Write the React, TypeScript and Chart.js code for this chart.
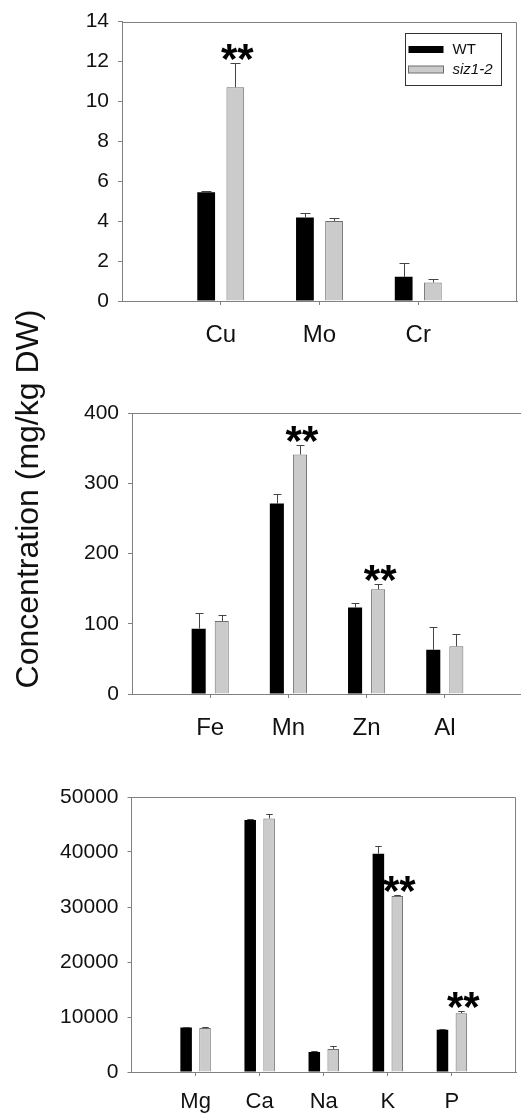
import React, { useEffect, useRef } from "react";
import { Chart, registerables } from "chart.js";

Chart.register(...registerables);

// ---------- data ----------
const seriesNames = ["WT", "siz1-2"];
const yTitle = "Concentration (mg/kg DW)";

const topCats = ["Cu", "Mo", "Cr"];
const topWT = [5.45, 4.19, 1.21];
const topWTErr = [0.05, 0.2, 0.68];
const topSiz = [10.71, 4.01, 0.93];
const topSizErr = [1.23, 0.17, 0.15];
const topSig = [true, false, false];

const midCats = ["Fe", "Mn", "Zn", "Al"];
const midWT = [93, 271, 123, 63];
const midWTErr = [23, 14, 7, 32];
const midSiz = [104, 341, 149, 68];
const midSizErr = [8, 13, 8, 17];
const midSig = [false, true, true, false];

const botCats = ["Mg", "Ca", "Na", "K", "P"];
const botWT = [8100, 45800, 3650, 39700, 7700];
const botWTErr = [100, 150, 200, 1400, 100];
const botSiz = [8000, 46100, 4200, 32000, 10700];
const botSizErr = [100, 800, 550, 100, 430];
const botSig = [false, false, false, true, true];

const topYMax = 14, topYStep = 2;
const midYMax = 400, midYStep = 100;
const botYMax = 50000, botYStep = 10000;

// ---------- styling ----------
const AXIS = "#808080";
const TEXT = "#111111";
const WT_FILL = "#000000";
const SIZ_FILL = "#cbcbcb";
const SIZ_BORDER = "#6e6e6e";
const ERR = "#444444";
const FONT = "Liberation Sans, Arial, sans-serif";

type Spec = {
  cats: string[];
  wt: number[];
  wtErr: number[];
  siz: number[];
  sizErr: number[];
  sig: boolean[];
  yMax: number;
  yStep: number;
  top: number;
  width: number;
  height: number;
  axisX: number;
  padTop: number;
  padRight: number;
  xh: number;
  xFont: number;
  xPad: number;
  legend: boolean;
};

const specs: Spec[] = [
  {
    cats: topCats, wt: topWT, wtErr: topWTErr, siz: topSiz, sizErr: topSizErr, sig: topSig,
    yMax: topYMax, yStep: topYStep,
    top: 0, width: 521, height: 345, axisX: 122, padTop: 19, padRight: 4, xh: 44, xFont: 24, xPad: 16, legend: true,
  },
  {
    cats: midCats, wt: midWT, wtErr: midWTErr, siz: midSiz, sizErr: midSizErr, sig: midSig,
    yMax: midYMax, yStep: midYStep,
    top: 380, width: 526, height: 364, axisX: 132, padTop: 33, padRight: 3, xh: 50, xFont: 24, xPad: 16, legend: false,
  },
  {
    cats: botCats, wt: botWT, wtErr: botWTErr, siz: botSiz, sizErr: botSizErr, sig: botSig,
    yMax: botYMax, yStep: botYStep,
    top: 760, width: 521, height: 357, axisX: 131.5, padTop: 37, padRight: 5, xh: 45, xFont: 22, xPad: 12.6, legend: false,
  },
];

function buildConfig(spec: Spec): any {
  const errs = [spec.wtErr, spec.sizErr];

  const errorBars = {
    id: "errorBars",
    afterDatasetsDraw(chart: any) {
      const ctx = chart.ctx;
      const y = chart.scales.y;
      ctx.save();
      ctx.strokeStyle = ERR;
      ctx.lineWidth = 1;
      chart.data.datasets.forEach((ds: any, di: number) => {
        const meta = chart.getDatasetMeta(di);
        meta.data.forEach((bar: any, j: number) => {
          const v = ds.data[j].y;
          const e = errs[di][j];
          const x = Math.round(bar.x) + 0.5;
          const yTop = bar.y;
          const yE = Math.round(y.getPixelForValue(v + e)) + 0.5;
          const half = bar.width * 0.28;
          ctx.beginPath();
          ctx.moveTo(x, yTop);
          ctx.lineTo(x, yE);
          ctx.moveTo(x - half, yE);
          ctx.lineTo(x + half, yE);
          ctx.stroke();
        });
      });
      ctx.restore();
    },
  };

  const sigMarks = {
    id: "sigMarks",
    afterDatasetsDraw(chart: any) {
      const ctx = chart.ctx;
      const y = chart.scales.y;
      const meta = chart.getDatasetMeta(1);
      ctx.save();
      ctx.fillStyle = "#000";
      ctx.font = `bold 42px ${FONT}`;
      ctx.textAlign = "center";
      ctx.textBaseline = "alphabetic";
      const m = ctx.measureText("**");
      const asc = m.actualBoundingBoxAscent;
      const desc = m.actualBoundingBoxDescent;
      spec.sig.forEach((s, j) => {
        if (!s) return;
        const bar = meta.data[j];
        const v = spec.siz[j] + spec.sizErr[j];
        const yE = y.getPixelForValue(v);
        const center = yE - 11;
        const baseline = center - (desc - asc) / 2;
        ctx.fillText("**", bar.x + 2, baseline);
      });
      ctx.restore();
    },
  };

  const frame = {
    id: "frame",
    afterDraw(chart: any) {
      const ctx = chart.ctx;
      const ca = chart.chartArea;
      ctx.save();
      ctx.strokeStyle = AXIS;
      ctx.lineWidth = 1;
      const t = Math.round(ca.top) + 0.5;
      const r = Math.round(ca.right) - 0.5;
      ctx.beginPath();
      ctx.moveTo(ca.left, t);
      ctx.lineTo(r, t);
      ctx.lineTo(r, ca.bottom);
      ctx.stroke();
      ctx.restore();
    },
  };

  const legendBox = {
    id: "legendBox",
    afterDraw(chart: any) {
      if (!spec.legend) return;
      const ctx = chart.ctx;
      const ca = chart.chartArea;
      const bw = 96, bh = 52;
      const bx = Math.round(ca.right - 16 - bw) + 0.5;
      const by = Math.round(ca.top + 11) + 0.5;
      ctx.save();
      ctx.fillStyle = "#fff";
      ctx.fillRect(bx, by, bw, bh);
      ctx.strokeStyle = "#333";
      ctx.lineWidth = 1;
      ctx.strokeRect(bx, by, bw, bh);
      const rows = [16, 36];
      rows.forEach((dy, i) => {
        const cy = by + dy;
        if (i === 0) {
          ctx.fillStyle = WT_FILL;
          ctx.fillRect(bx + 3, cy - 3.5, 35, 7);
        } else {
          ctx.fillStyle = SIZ_FILL;
          ctx.fillRect(bx + 3, cy - 3.5, 35, 7);
          ctx.strokeStyle = SIZ_BORDER;
          ctx.strokeRect(bx + 3, cy - 3.5, 35, 7);
        }
        ctx.fillStyle = TEXT;
        ctx.font = `${i === 1 ? "italic " : ""}15px ${FONT}`;
        ctx.textAlign = "left";
        ctx.textBaseline = "middle";
        ctx.fillText(seriesNames[i], bx + 47, cy);
      });
      ctx.restore();
    },
  };

  return {
    type: "bar",
    data: {
      datasets: [
        {
          label: seriesNames[0],
          data: spec.cats.map((_, i) => ({ x: i + 1, y: spec.wt[i] })),
          backgroundColor: WT_FILL,
          borderColor: WT_FILL,
          borderWidth: 0,
        },
        {
          label: seriesNames[1],
          data: spec.cats.map((_, i) => ({ x: i + 1, y: spec.siz[i] })),
          backgroundColor: SIZ_FILL,
          borderColor: SIZ_BORDER,
          borderWidth: 1,
        },
      ],
    },
    options: {
      responsive: false,
      animation: false,
      devicePixelRatio: 1,
      categoryPercentage: 0.59,
      barPercentage: 0.61,
      layout: { padding: { top: spec.padTop, right: spec.padRight, left: 0, bottom: 0 } },
      plugins: { legend: { display: false }, tooltip: { enabled: false } },
      scales: {
        x: {
          type: "linear",
          min: 0,
          max: spec.cats.length + 1,
          offset: false,
          afterBuildTicks: (s: any) => {
            s.ticks = spec.cats.map((_, i) => ({ value: i + 1 }));
          },
          afterFit: (s: any) => {
            s.height = spec.xh;
          },
          ticks: {
            autoSkip: false,
            maxRotation: 0,
            padding: spec.xPad,
            color: TEXT,
            font: { family: FONT, size: spec.xFont },
            callback: (v: number) => spec.cats[v - 1] ?? "",
          },
          grid: { offset: false, drawOnChartArea: false, drawTicks: true, tickLength: 4, color: AXIS },
          border: { display: true, color: AXIS, width: 1 },
        },
        y: {
          min: 0,
          max: spec.yMax,
          afterFit: (s: any) => {
            s.width = spec.axisX;
          },
          ticks: {
            stepSize: spec.yStep,
            padding: 9,
            color: TEXT,
            font: { family: FONT, size: 21 },
            callback: (v: number) => String(v),
          },
          grid: { drawOnChartArea: false, drawTicks: true, tickLength: 4, color: AXIS },
          border: { display: true, color: AXIS, width: 1 },
        },
      },
    },
    plugins: [frame, errorBars, sigMarks, legendBox],
  };
}

function Panel({ spec }: { spec: Spec }) {
  const ref = useRef<HTMLCanvasElement | null>(null);
  useEffect(() => {
    if (!ref.current) return;
    const chart = new Chart(ref.current, buildConfig(spec));
    return () => chart.destroy();
  }, [spec]);
  return (
    <canvas
      ref={ref}
      width={spec.width}
      height={spec.height}
      style={{ position: "absolute", left: 0, top: spec.top, width: spec.width, height: spec.height }}
    />
  );
}

export default function App() {
  const titleLen = 460;
  const titleH = 36;
  const cx = 27;
  const cy = 499;
  return (
    <div
      style={{
        position: "fixed",
        left: 0,
        top: 0,
        width: 521,
        height: 1117,
        overflow: "hidden",
        background: "#fff",
      }}
    >
      {specs.map((s, i) => (
        <Panel key={i} spec={s} />
      ))}
      <div
        style={{
          position: "absolute",
          left: cx - titleLen / 2,
          top: cy - titleH / 2,
          width: titleLen,
          height: titleH,
          lineHeight: `${titleH}px`,
          textAlign: "center",
          whiteSpace: "nowrap",
          fontFamily: FONT,
          fontSize: 32,
          color: TEXT,
          transform: "rotate(-90deg)",
          transformOrigin: "50% 50%",
        }}
      >
        {yTitle}
      </div>
    </div>
  );
}
